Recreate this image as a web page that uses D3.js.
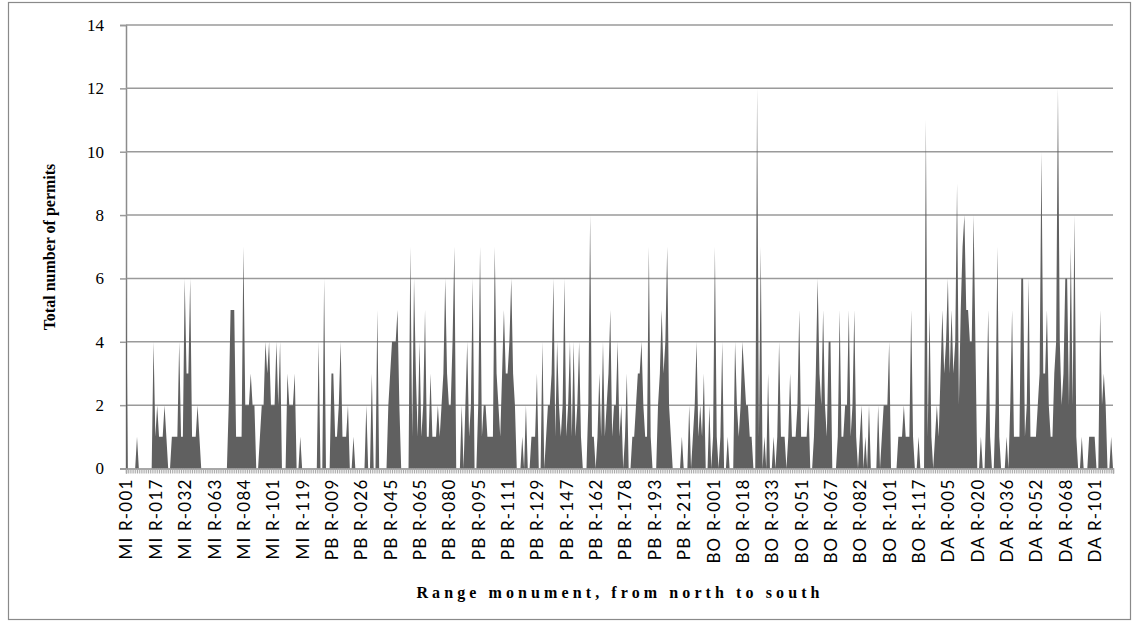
<!DOCTYPE html>
<html>
<head>
<meta charset="utf-8">
<script src="https://cdn.jsdelivr.net/npm/d3@7"></script>
<style>
  body { margin: 0; background: #fff; }
  svg { display: block; }
</style>
</head>
<body>
<script>
// permits per range monument, north to south
var permits = [
  7,0,0,0,0,0,1,0,0,0, 0,0,0,0,0,4,1,2,1,1, 1,2,1,0,0,1,1,1,1,4,
  1,1,6,3,3,6,1,1,1,2, 1,0,0,0,0,0,0,0,0,0, 0,0,0,0,0,0,2,5,5,5,
  1,1,1,1,7,2,2,2,3,2, 2,0,0,1,2,2,4,3,4,2, 2,2,4,2,4,0,0,0,3,2,
  2,2,3,0,0,1,0,0,0,0, 0,0,0,0,0,4,0,0,6,0, 0,0,3,3,1,1,2,4,1,1,
  1,2,0,0,1,0,0,0,0,0, 0,2,0,0,3,0,0,5,0,0, 0,0,0,2,3,4,4,4,5,2,
  0,0,0,0,0,7,1,6,3,1, 4,1,2,5,1,1,3,1,1,1, 2,1,2,3,6,3,2,2,4,7,
  0,0,0,2,0,2,4,1,2,6, 0,0,2,7,1,2,2,1,1,1, 1,7,3,2,1,3,5,3,3,4,
  6,3,2,0,0,0,1,0,2,0, 0,1,1,1,3,0,0,4,0,1, 2,2,3,6,1,4,2,1,2,6,
  1,2,4,1,4,1,2,4,1,0, 0,0,2,8,1,1,0,1,3,1, 4,1,2,3,5,1,2,2,4,1,
  2,0,1,3,0,0,1,1,2,3, 3,4,2,1,1,7,1,0,0,0, 2,3,5,3,4,7,2,1,0,0,
  0,0,0,1,0,0,0,2,0,1, 2,4,1,2,1,3,0,0,2,0, 1,7,1,0,1,4,0,0,1,0,
  0,0,4,2,1,2,4,3,2,2, 1,1,0,0,12,1,7,0,1,0, 3,0,0,1,0,1,4,1,1,1,
  0,1,3,1,1,1,2,5,1,1, 1,1,2,0,0,1,3,6,3,2, 5,2,1,4,4,0,0,0,1,5,
  1,1,2,2,5,1,2,5,1,0, 1,2,0,1,0,2,0,0,0,0, 2,0,1,2,2,2,4,0,0,0,
  0,1,1,1,2,1,1,1,5,1, 0,0,1,0,0,0,11,1,5,1, 0,1,2,1,3,5,3,4,6,3,
  5,3,4,9,2,5,7,8,5,5, 4,4,8,4,0,0,1,0,0,2, 5,1,0,0,2,7,1,0,0,0,
  1,0,2,5,1,1,1,1,6,6, 1,2,6,1,1,1,1,2,3,10, 3,3,5,2,1,1,3,4,12,4,
  2,3,6,6,2,7,2,8,1,0, 0,1,0,0,0,1,1,1,1,0, 0,5,2,3,2,0,0,1,0
];

// every 16th monument carries a label
var tickLabels = [
  'MI R-001','MI R-017','MI R-032','MI R-063','MI R-084','MI R-101','MI R-119',
  'PB R-009','PB R-026','PB R-045','PB R-065','PB R-080','PB R-095','PB R-111',
  'PB R-129','PB R-147','PB R-162','PB R-178','PB R-193','PB R-211',
  'BO R-001','BO R-018','BO R-033','BO R-051','BO R-067','BO R-082','BO R-101','BO R-117',
  'DA R-005','DA R-020','DA R-036','DA R-052','DA R-068','DA R-101'
];
var labelEvery = 16;
var yTicks = [0,2,4,6,8,10,12,14];

var w = 1138;
var h = 623;

var svg = d3.select('body').append('svg')
  .attr('width', w)
  .attr('height', h);

// outer frame
svg.append('rect')
  .attr('x', 8.5).attr('y', 2.5)
  .attr('width', 1122).attr('height', 617)
  .attr('fill', 'none')
  .attr('stroke', '#8a8a8a')
  .attr('stroke-width', 1.2);

var x = d3.scalePoint()
  .domain(d3.range(permits.length))
  .range([126, 1113]);

var y = d3.scaleLinear()
  .domain([0, 14])
  .range([468.5, 25]);

// horizontal gridlines + y labels
var yAxis = svg.append('g')
  .attr('transform', 'translate(126,0)')
  .call(d3.axisLeft(y).tickValues(yTicks).tickSize(6).tickFormat(d3.format('d')));
yAxis.select('.domain').attr('stroke', '#8c8c8c').attr('stroke-width', 1.5);
yAxis.selectAll('.tick line').attr('stroke', '#9a9a9a').attr('stroke-width', 1.5);
yAxis.selectAll('.tick text')
  .attr('x', -22)
  .attr('fill', '#000')
  .style('font-family', '"Liberation Serif", "DejaVu Serif", serif')
  .style('font-size', '17px');

svg.append('g').selectAll('line')
  .data(yTicks.filter(function(d) { return d > 0; }))
  .enter().append('line')
  .attr('x1', 126).attr('x2', 1113)
  .attr('y1', function(d) { return y(d); })
  .attr('y2', function(d) { return y(d); })
  .attr('stroke', '#9a9a9a')
  .attr('stroke-width', 1.5);

// the area
var area = d3.area()
  .x(function(d, i) { return x(i); })
  .y0(y(0))
  .y1(function(d) { return y(d); });

svg.append('path')
  .datum(permits)
  .attr('d', area)
  .attr('fill', '#606060');

// category axis with a tick per monument
var xAxis = svg.append('g')
  .attr('transform', 'translate(0,' + y(0) + ')')
  .call(d3.axisBottom(x)
    .tickValues(x.domain())
    .tickSize(5)
    .tickFormat(function(d) { return d % labelEvery === 0 ? tickLabels[d / labelEvery] : ''; }));
xAxis.select('.domain').attr('stroke', '#8c8c8c').attr('stroke-width', 1.5);
xAxis.selectAll('.tick line').attr('stroke', '#a8a8a8').attr('stroke-width', 1);
xAxis.selectAll('.tick text')
  .attr('transform', 'rotate(-90)')
  .attr('x', -10)
  .attr('y', 0)
  .attr('dy', '0.35em')
  .attr('text-anchor', 'end')
  .attr('fill', '#000')
  .style('font-family', 'Lato, "Open Sans", sans-serif')
  .style('font-size', '17px')
  .style('letter-spacing', '1.2px');

// titles
svg.append('text')
  .attr('transform', 'translate(55,247) rotate(-90)')
  .attr('text-anchor', 'middle')
  .style('font-family', '"Liberation Serif", "DejaVu Serif", serif')
  .style('font-weight', 'bold')
  .style('font-size', '16px')
  .text('Total number of permits');

svg.append('text')
  .attr('x', 620)
  .attr('y', 598)
  .attr('text-anchor', 'middle')
  .style('font-family', '"Liberation Serif", "DejaVu Serif", serif')
  .style('font-weight', 'bold')
  .style('font-size', '16px')
  .style('letter-spacing', '4.1px')
  .text('Range monument, from north to south');
</script>
</body>
</html>
